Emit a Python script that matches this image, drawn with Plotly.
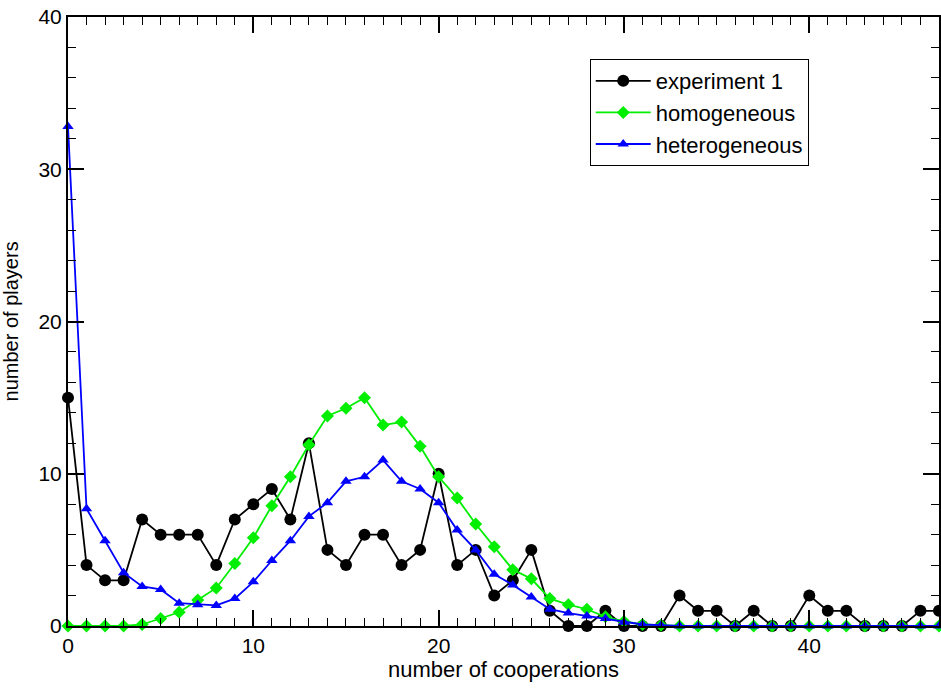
import plotly.graph_objects as go

cooperations = list(range(48))

experiment_1 = [15, 4, 3, 3, 7, 6, 6, 6, 4, 7, 8, 9, 7, 12, 5, 4, 6, 6, 4, 5,
                10, 4, 5, 2, 3, 5, 1, 0, 0, 1, 0, 0, 0, 2, 1, 1, 0, 1, 0, 0,
                2, 1, 1, 0, 0, 0, 1, 1]

homogeneous = [0, 0, 0, 0, 0.1, 0.5, 0.9, 1.7, 2.5, 4.1, 5.8, 7.9, 9.8, 11.9, 13.8, 14.3,
               15.0, 13.2, 13.4, 11.8, 9.8, 8.4, 6.7, 5.2, 3.7, 3.1, 1.8, 1.4, 1.1, 0.6,
               0.3, 0.1, 0.05, 0, 0, 0, 0, 0, 0, 0, 0, 0, 0, 0, 0, 0, 0, 0]

heterogeneous = [32.8, 7.7, 5.6, 3.5, 2.6, 2.4, 1.5, 1.4, 1.35, 1.8, 2.9, 4.3, 5.6, 7.2, 8.1, 9.5,
                 9.8, 10.9, 9.5, 9.0, 8.1, 6.3, 5.0, 3.4, 2.7, 1.9, 1.1, 0.85, 0.65, 0.5,
                 0.25, 0.1, 0.05, 0, 0, 0, 0, 0, 0, 0, 0, 0, 0, 0, 0, 0, 0, 0]

FONT = "Liberation Sans"

fig = go.Figure()
fig.add_trace(go.Scatter(x=cooperations, y=experiment_1, name="experiment 1",
                         mode="lines+markers", cliponaxis=False,
                         line=dict(color="black", width=1.8),
                         marker=dict(symbol="circle", size=12, color="black")))
fig.add_trace(go.Scatter(x=cooperations, y=homogeneous, name="homogeneous",
                         mode="lines+markers", cliponaxis=False,
                         line=dict(color="#00ee00", width=1.8),
                         marker=dict(symbol="diamond", size=10, color="#00ee00")))
fig.add_trace(go.Scatter(x=cooperations, y=heterogeneous, name="heterogeneous",
                         mode="lines+markers", cliponaxis=False,
                         line=dict(color="#0000ff", width=1.8),
                         marker=dict(symbol="triangle-up", size=10, color="#0000ff")))

axis_common = dict(showgrid=False, zeroline=False, showline=True, linecolor="black",
                   linewidth=2, mirror="ticks", ticks="inside", ticklen=16, tickwidth=1.5,
                   tickcolor="black", automargin=False, ticklabeloverflow="allow",
                   tickfont=dict(family=FONT, size=21, color="black"))

fig.update_xaxes(range=[0, 47], tickvals=[0, 10, 20, 30, 40],
                 minor=dict(dtick=1, ticks="inside", ticklen=8, tickcolor="black", tickwidth=1.2),
                 title=dict(text="number of cooperations", standoff=2,
                            font=dict(family=FONT, size=22, color="black")),
                 **axis_common)
fig.update_yaxes(range=[0, 40], tickvals=[0, 10, 20, 30, 40],
                 minor=dict(dtick=2, ticks="inside", ticklen=8, tickcolor="black", tickwidth=1.2),
                 **axis_common)

fig.add_annotation(text="number of players", textangle=-90, showarrow=False,
                   xref="paper", yref="paper", x=-0.0655, y=0.5,
                   xanchor="center", yanchor="middle",
                   font=dict(family=FONT, size=20, color="black"))

fig.update_layout(
    width=941, height=689,
    margin=dict(l=68, r=2, t=17, b=63),
    paper_bgcolor="white", plot_bgcolor="white",
    legend=dict(x=0.599, y=0.931, xanchor="left", yanchor="top",
                bordercolor="black", borderwidth=1, bgcolor="white",
                font=dict(family=FONT, size=22, color="black"),
                tracegroupgap=0, itemwidth=55),
    showlegend=True,
)

fig.write_html("out.html", config={"displayModeBar": False},
               post_script="document.body.style.margin='0';document.body.style.overflow='hidden';")
